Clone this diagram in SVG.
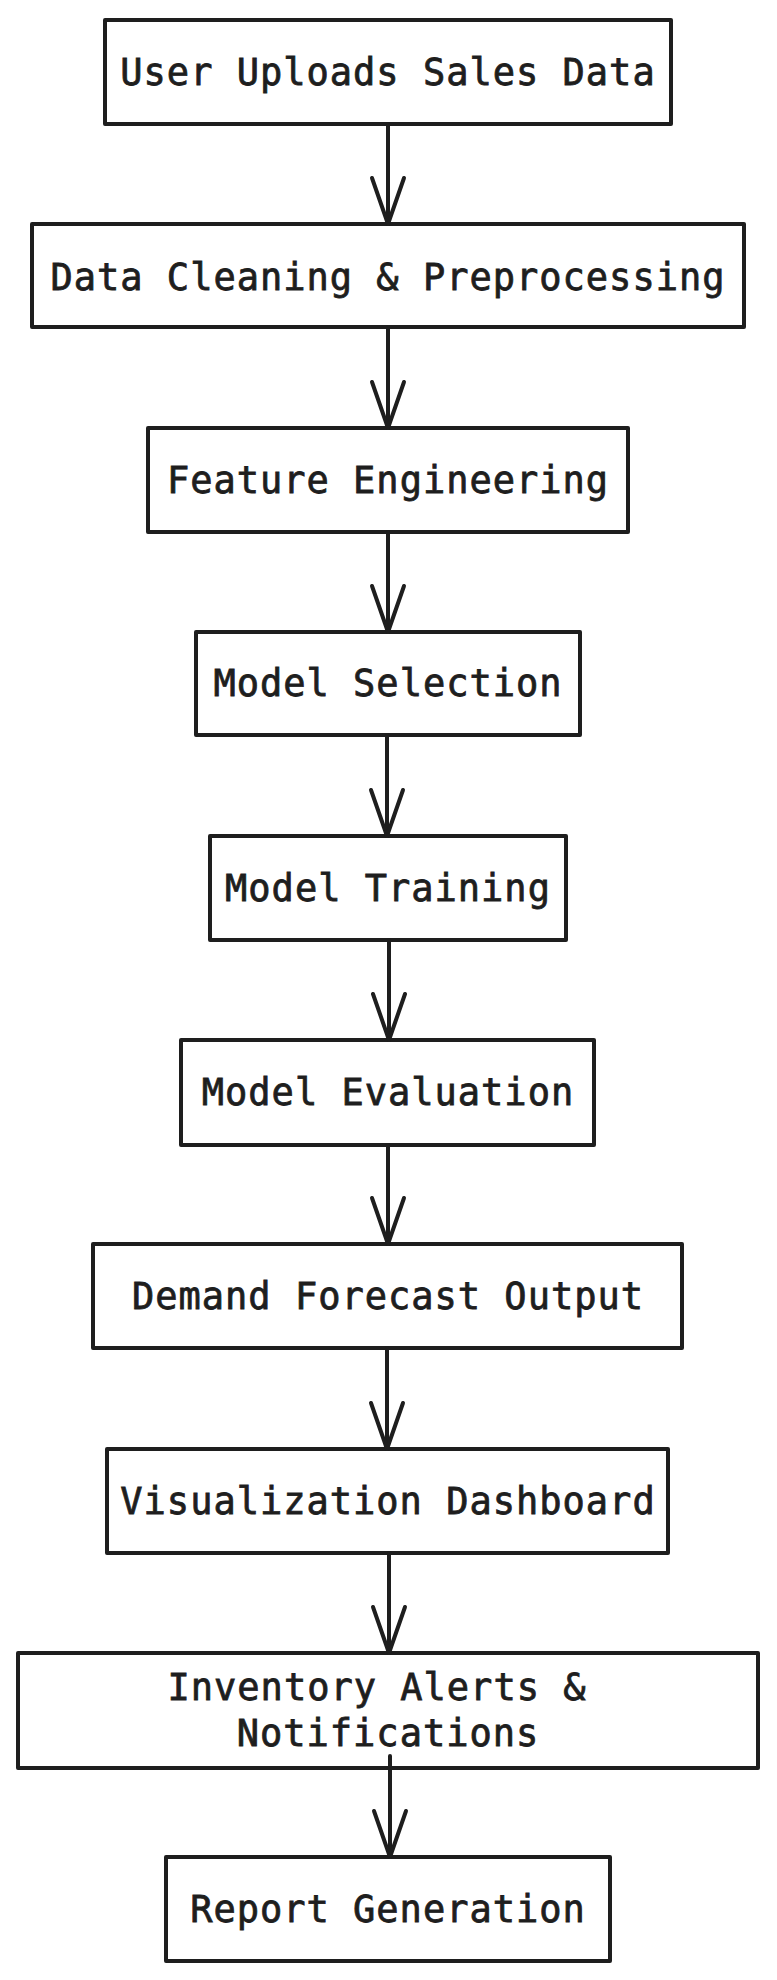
<svg xmlns="http://www.w3.org/2000/svg" width="777" height="1980" viewBox="0 0 777 1980">
<defs>
<style>
.box{fill:#fff;stroke:#1e1e1e;stroke-width:4;stroke-linejoin:round}
.lbl{font-family:"DejaVu Sans Mono","Liberation Mono",monospace;font-size:37px;letter-spacing:1px;fill:#1e1e1e;stroke:#1e1e1e;stroke-width:0.8;text-anchor:middle}
.edge{fill:none;stroke:#1e1e1e;stroke-width:4;stroke-linecap:round}
</style>
<marker id="ah" markerUnits="userSpaceOnUse" markerWidth="60" markerHeight="40" refX="50" refY="20" orient="auto" overflow="visible">
<path d="M4,4 L50,20 L4,36" fill="none" stroke="#1e1e1e" stroke-width="4" stroke-linecap="round" stroke-linejoin="round"/>
</marker>
</defs>
<rect width="777" height="1980" fill="#fff"/>
<g id="n1"><rect class="box" x="105" y="20" width="566" height="104"/><text class="lbl" x="388" y="85">User Uploads Sales Data</text></g>
<g id="n2"><rect class="box" x="32" y="224" width="712" height="103"/><text class="lbl" x="388" y="290">Data Cleaning &amp; Preprocessing</text></g>
<g id="n3"><rect class="box" x="148" y="428" width="480" height="104"/><text class="lbl" x="388" y="493">Feature Engineering</text></g>
<g id="n4"><rect class="box" x="196" y="632" width="384" height="103"/><text class="lbl" x="388" y="696">Model Selection</text></g>
<g id="n5"><rect class="box" x="210" y="836" width="356" height="104"/><text class="lbl" x="388" y="901">Model Training</text></g>
<g id="n6"><rect class="box" x="181" y="1040" width="413" height="105"/><text class="lbl" x="388" y="1105">Model Evaluation</text></g>
<g id="n7"><rect class="box" x="93" y="1244" width="589" height="104"/><text class="lbl" x="388" y="1309">Demand Forecast Output</text></g>
<g id="n8"><rect class="box" x="107" y="1449" width="561" height="104"/><text class="lbl" x="388" y="1514">Visualization Dashboard</text></g>
<g id="n9"><rect class="box" x="18" y="1653" width="740" height="115"/><text class="lbl" x="377" y="1700">Inventory Alerts &amp;</text><text class="lbl" x="388" y="1746">Notifications</text></g>
<g id="n10"><rect class="box" x="166" y="1857" width="444" height="104"/><text class="lbl" x="388" y="1922">Report Generation</text></g>
<g id="connectors">
<path class="edge" d="M388,124 L388,224" marker-end="url(#ah)"/>
<path class="edge" d="M388,327 L388,428" marker-end="url(#ah)"/>
<path class="edge" d="M388,532 L388,632" marker-end="url(#ah)"/>
<path class="edge" d="M387,735 L387,836" marker-end="url(#ah)"/>
<path class="edge" d="M389,940 L389,1040" marker-end="url(#ah)"/>
<path class="edge" d="M388,1145 L388,1244" marker-end="url(#ah)"/>
<path class="edge" d="M387,1348 L387,1449" marker-end="url(#ah)"/>
<path class="edge" d="M389,1553 L389,1653" marker-end="url(#ah)"/>
<path class="edge" d="M390,1756 L390,1857" marker-end="url(#ah)"/>
</g>
</svg>
